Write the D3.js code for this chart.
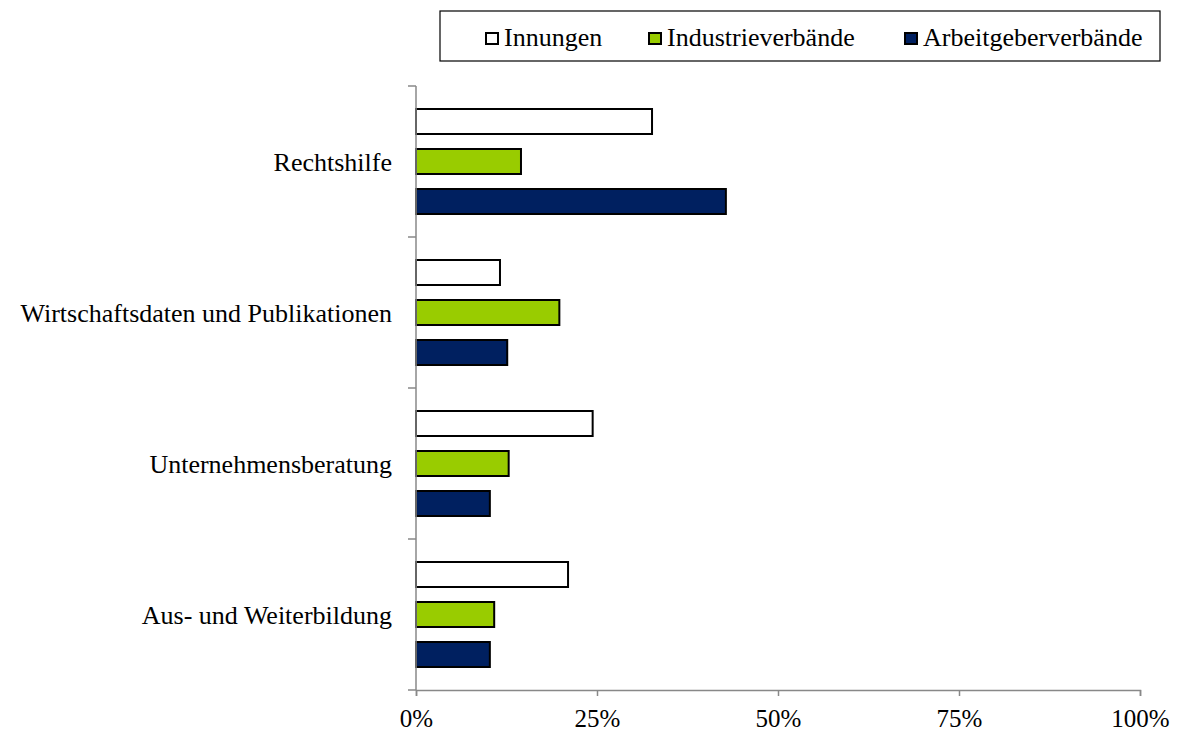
<!DOCTYPE html>
<html><head><meta charset="utf-8">
<script src="https://cdn.jsdelivr.net/npm/d3@7"></script>
<style>body{margin:0;background:#fff}svg{display:block}</style>
</head><body>
<svg id="c" width="1180" height="731"></svg>
<script>
const categories = ["Rechtshilfe","Wirtschaftsdaten und Publikationen","Unternehmensberatung","Aus- und Weiterbildung"];
const seriesNames = ["Innungen","Industrieverbände","Arbeitgeberverbände"];
const innungen = [32.6, 11.6, 24.4, 21.0];
const industrie = [14.5, 19.8, 12.8, 10.8];
const arbeitgeber = [42.8, 12.6, 10.2, 10.2];
const tickValues = [0, 25, 50, 75, 100];
const colors = ["#ffffff", "#99cc00", "#002060"];

(function () {
const FONT = "'Liberation Serif'";
const seriesData = [innungen, industrie, arbeitgeber];
const svg = d3.select("#c");
const pLeft = 416, pRight = 1140, pTop = 86, pBottom = 690;
const x = d3.scaleLinear().domain([0, 100]).range([pLeft, pRight]);
const y = d3.scaleBand().domain(categories).range([pTop, pBottom]);
const inner = d3.scaleBand().domain(seriesNames).range([23, 128]).paddingInner(0.375);

// bars
seriesNames.forEach((s, si) => {
  svg.append("g").selectAll("rect").data(categories).join("rect")
    .attr("x", x(0))
    .attr("y", c => y(c) + inner(s))
    .attr("width", (c, i) => x(seriesData[si][i]) - x(0))
    .attr("height", inner.bandwidth())
    .attr("fill", colors[si])
    .attr("stroke", "#000").attr("stroke-width", 2);
});

// y axis
const yAxisG = svg.append("g");
yAxisG.append("line").attr("x1", pLeft).attr("x2", pLeft).attr("y1", pTop).attr("y2", pBottom)
  .attr("stroke", "#888").attr("stroke-width", 1.5);
const yTicks = categories.map(c => y(c)).concat([pBottom]);
yAxisG.selectAll(".yt").data(yTicks).join("line")
  .attr("x1", pLeft - 8).attr("x2", pLeft).attr("y1", d => d).attr("y2", d => d)
  .attr("stroke", "#888").attr("stroke-width", 1.5);
yAxisG.selectAll(".yl").data(categories).join("text")
  .attr("x", 392).attr("y", c => y(c) + y.bandwidth() / 2)
  .attr("dy", "0.35em").attr("text-anchor", "end")
  .style("font-family", FONT).style("font-size", "26px").attr("fill", "#000")
  .text(d => d);

// x axis
const xAxis = d3.axisBottom(x).tickValues(tickValues).tickFormat(d => d + "%").tickSize(6).tickPadding(13);
const xg = svg.append("g").attr("transform", `translate(0,${pBottom})`).call(xAxis);
xg.select(".domain").attr("stroke", "#888").attr("stroke-width", 1.5);
xg.selectAll(".tick line").attr("stroke", "#888").attr("stroke-width", 1.5);
xg.selectAll(".tick text").style("font-family", FONT).style("font-size", "25px").attr("fill", "#000");

// legend
const lg = svg.append("g");
lg.append("rect").attr("x", 440).attr("y", 11).attr("width", 720).attr("height", 50)
  .attr("fill", "#fff").attr("stroke", "#000").attr("stroke-width", 1.2);
const legendX = [485, 648, 904];
seriesNames.forEach((s, i) => {
  lg.append("rect").attr("x", legendX[i] + 1).attr("y", 33).attr("width", 12).attr("height", 11)
    .attr("fill", colors[i]).attr("stroke", "#000").attr("stroke-width", 2);
  lg.append("text").attr("x", legendX[i] + 19).attr("y", 46)
    .style("font-family", FONT).style("font-size", "26px").attr("fill", "#000").text(s);
});
})();
</script>
</body></html>
